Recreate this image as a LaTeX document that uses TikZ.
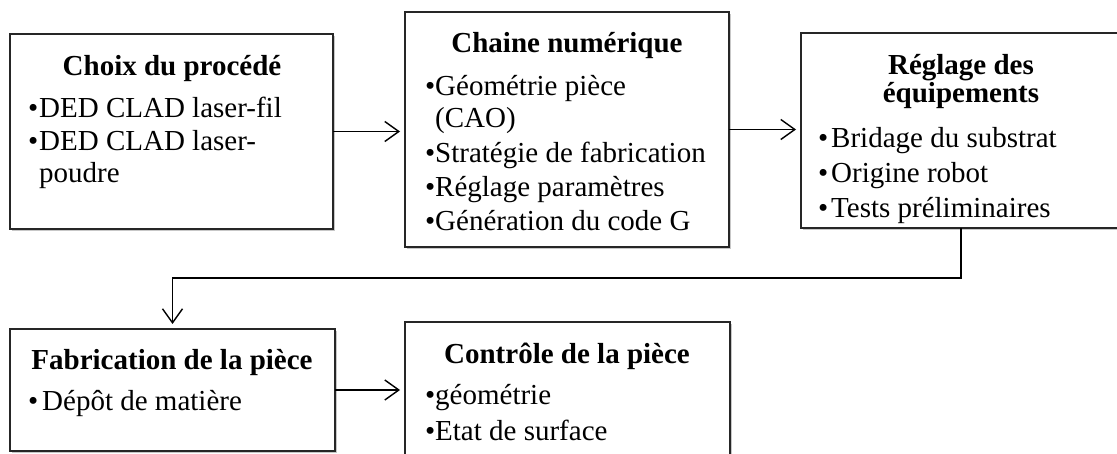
\documentclass[tikz,border=0pt]{standalone}
\usepackage{fontspec}
\setmainfont{Liberation Serif}
\usetikzlibrary{arrows.meta,shadows}
\begin{document}
\begin{tikzpicture}[x=1pt,y=-1pt,
  box/.style={draw=black!85, line width=1.8pt, fill=white, inner sep=0pt, outer sep=0pt,
    drop shadow={shadow xshift=1.5pt, shadow yshift=-2pt, opacity=.22, fill=black}},
  txt/.style={inner sep=0pt, anchor=base west, font=\fontsize{29pt}{34pt}\selectfont},
  ttl/.style={inner sep=0pt, anchor=base, font=\fontsize{29pt}{34pt}\selectfont\bfseries},
  arr/.style={line width=1.4pt, -{Straight Barb[length=14pt,width=20pt]}, shorten >=5pt}
]
\clip (0,0) rectangle (1117,454);
\fill[white] (0,0) rectangle (1117,454);

% boxes
\node[box, minimum width=323pt, minimum height=195pt] (b1) at (171.5,131.5) {};
\node[box, minimum width=324pt, minimum height=235pt] (b2) at (567,129.5) {};
\node[box, minimum width=320pt, minimum height=195pt] (b3) at (961,130.5) {};
\node[box, minimum width=325pt, minimum height=122pt] (b4) at (172.5,390) {};
\node[box, minimum width=325pt, minimum height=140pt] (b5) at (567.5,392) {};

% connectors
\draw[arr] (b1.east) -- (b1.east -| b2.west);
\draw[arr] (b2.east) -- (b2.east -| b3.west);
\draw[arr] (b3.south) -- ++(0,50) -| (b4.north);
\draw[arr] (b4.east) -- (b4.east -| b5.west);

% box 1
\node[ttl] (t1) at (172,76) {Choix du procédé};
\node[txt] (t1b1) at (28,118) {•};
\node[txt] (t1l1) at (39,118) {DED CLAD laser-fil};
\node[txt] (t1b2) at (28,151) {•};
\node[txt] (t1l2) at (39,151) {DED CLAD laser-};
\node[txt] (t1l3) at (39,183) {poudre};

% box 2
\node[ttl] (t2) at (567,53) {Chaine numérique};
\node[txt] (t2b1) at (425,96) {•};
\node[txt] (t2l1) at (435,96) {Géométrie pièce};
\node[txt] (t2l2) at (435,128) {(CAO)};
\node[txt] (t2b3) at (425,163) {•};
\node[txt] (t2l3) at (435,163) {Stratégie de fabrication};
\node[txt] (t2b4) at (425,197) {•};
\node[txt] (t2l4) at (435,197) {Réglage paramètres};
\node[txt] (t2b5) at (425,231) {•};
\node[txt] (t2l5) at (435,231) {Génération du code G};

% box 3
\node[ttl] (t3a) at (961,75) {Réglage des};
\node[ttl] (t3b) at (961,103) {équipements};
\node[txt] (t3b1) at (818,148) {•};
\node[txt] (t3l1) at (831,148) {Bridage du substrat};
\node[txt] (t3b2) at (818,183) {•};
\node[txt] (t3l2) at (831,183) {Origine robot};
\node[txt] (t3b3) at (818,218) {•};
\node[txt] (t3l3) at (831,218) {Tests préliminaires};

% box 4
\node[ttl] (t4) at (172,370) {Fabrication de la pièce};
\node[txt] (t4b1) at (28,410) {•};
\node[txt] (t4l1) at (42,410) {Dépôt de matière};

% box 5
\node[ttl] (t5) at (567,363) {Contrôle de la pièce};
\node[txt] (t5b1) at (425,405) {•};
\node[txt] (t5l1) at (435,405) {géométrie};
\node[txt] (t5b2) at (425,440) {•};
\node[txt] (t5l2) at (435,440) {Etat de surface};
\end{tikzpicture}
\end{document}
